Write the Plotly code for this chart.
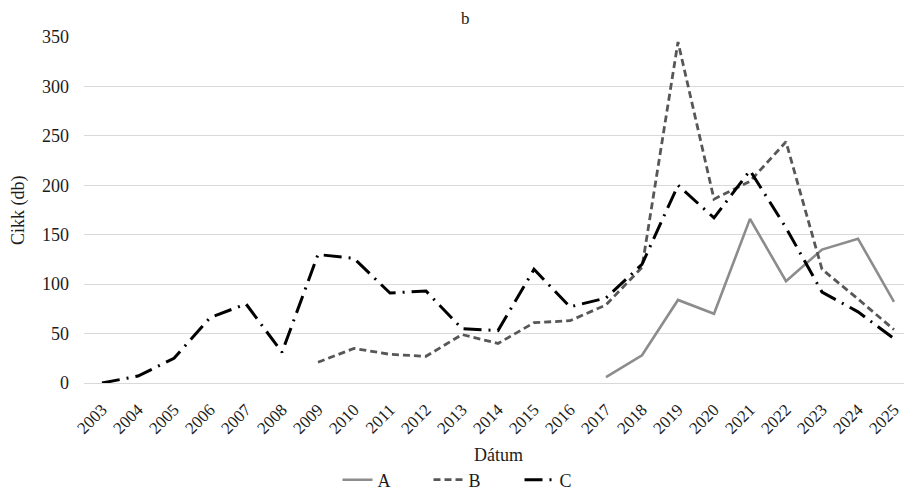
import plotly.graph_objects as go

years = [str(y) for y in range(2003, 2026)]

# Yearly article counts per series (None = no data for that year)
series_a = [None] * 14 + [6, 28, 84, 70, 166, 103, 135, 146, 82]
series_b = [None] * 6 + [21, 35, 29, 27, 49, 40, 61, 63, 79, 117, 345, 186, 204, 244, 115, 85, 54]
series_c = [0, 7, 25, 66, 80, 31, 130, 126, 91, 93, 55, 53, 115, 77, 86, 120, 200, 167, 215, 157, 92, 72, 45]

names = ["A", "B", "C"]

FONT = "Liberation Serif"
TEXT = "#1c1c1c"

fig = go.Figure()
fig.add_trace(go.Scatter(
    x=years, y=series_a, name=names[0], mode="lines",
    line=dict(color="#8c8c8c", width=2.6, dash="solid"),
))
fig.add_trace(go.Scatter(
    x=years, y=series_b, name=names[1], mode="lines",
    line=dict(color="#575757", width=2.8, dash="7px,4px"),
))
fig.add_trace(go.Scatter(
    x=years, y=series_c, name=names[2], mode="lines",
    line=dict(color="#000000", width=3, dash="18px,7px,2px,7px"),
))

L, R, T, B = 84, 0, 37, 109
W, H = 904, 492
plot_w = W - L - R
plot_h = H - T - B

fig.update_layout(
    width=W, height=H,
    margin=dict(l=L, r=R, t=T, b=B, autoexpand=False),
    paper_bgcolor="white", plot_bgcolor="white",
    font=dict(family=FONT, size=17, color=TEXT),
    showlegend=True,
    legend=dict(
        orientation="h", x=(474 - L) / plot_w, xanchor="center",
        y=(H - B - 480) / plot_h, yanchor="middle",
        font=dict(family=FONT, size=18, color=TEXT),
        entrywidth=46, entrywidthmode="pixels", tracegroupgap=0,
    ),
    xaxis=dict(
        type="category", range=[-0.5, -0.5 + plot_w / 36.0],
        showgrid=False, showline=True, linecolor="#d9d9d9", linewidth=1.2,
        ticks="", tickangle=-45, ticklabelstandoff=9,
        tickfont=dict(family=FONT, size=17, color=TEXT),
    ),
    yaxis=dict(
        range=[0, 350], dtick=50, showgrid=True, gridcolor="#d9d9d9", gridwidth=1.2,
        zeroline=False, showline=False, ticks="", ticklabelstandoff=14,
        tickfont=dict(family=FONT, size=18, color=TEXT),
    ),
    annotations=[
        dict(text="b", xref="paper", yref="paper", x=(465 - L) / plot_w, y=(H - B - 19) / plot_h,
             showarrow=False, font=dict(family=FONT, size=17, color=TEXT),
             xanchor="center", yanchor="middle"),
        dict(text="Dátum", xref="paper", yref="paper", x=(498 - L) / plot_w, y=(H - B - 455) / plot_h,
             showarrow=False, font=dict(family=FONT, size=18, color=TEXT),
             xanchor="center", yanchor="middle"),
        dict(text="Cikk (db)", xref="paper", yref="paper", x=(18 - L) / plot_w, y=0.5,
             showarrow=False, textangle=-90, font=dict(family=FONT, size=18, color=TEXT),
             xanchor="center", yanchor="middle"),
    ],
)

fig.write_html("out.html")
